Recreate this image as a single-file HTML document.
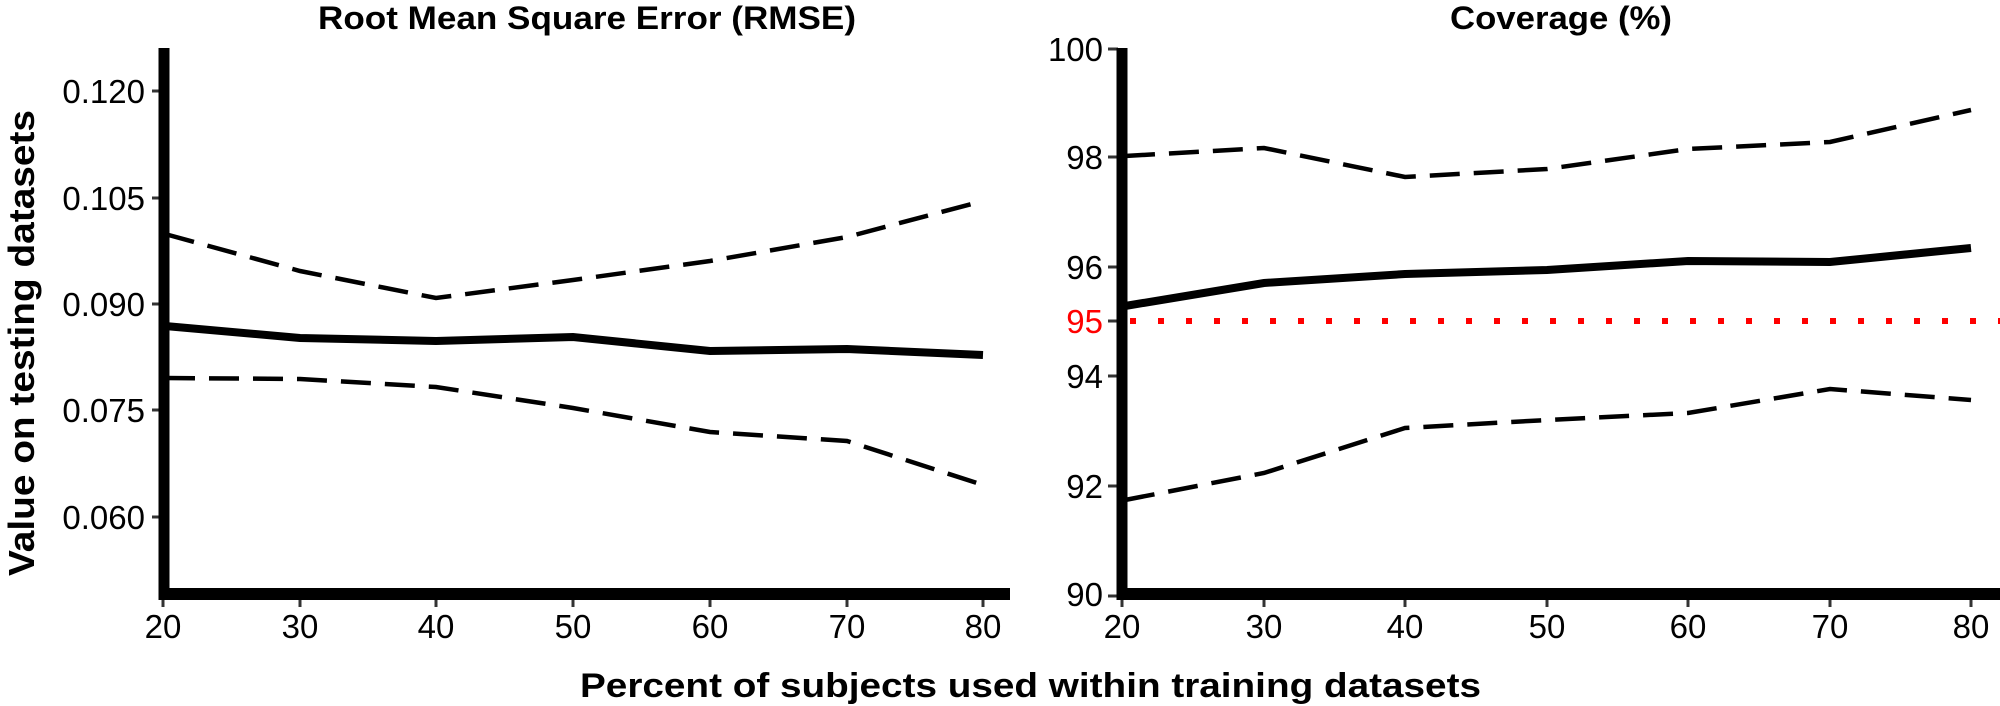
<!DOCTYPE html>
<html><head><meta charset="utf-8"><style>
body{margin:0;background:#fff}
svg{display:block;font-family:"Liberation Sans",Arial,sans-serif}
</style></head><body>
<svg width="2000" height="706" viewBox="0 0 2000 706">
<g font-weight="bold" fill="#000">
<text x="318" y="29" font-size="32" textLength="538" lengthAdjust="spacingAndGlyphs">Root Mean Square Error (RMSE)</text>
<text x="1450" y="29" font-size="32" textLength="222" lengthAdjust="spacingAndGlyphs">Coverage (%)</text>
<text x="580" y="697" font-size="34" textLength="901" lengthAdjust="spacingAndGlyphs">Percent of subjects used within training datasets</text>
<text transform="translate(34,576) rotate(-90)" font-size="36" textLength="466" lengthAdjust="spacingAndGlyphs">Value on testing datasets</text>
</g>
<!-- left panel -->
<g fill="none" stroke="#000">
<g stroke="#333" stroke-width="3">
<line x1="152" y1="91" x2="163" y2="91"/><line x1="152" y1="198" x2="163" y2="198"/><line x1="152" y1="304" x2="163" y2="304"/><line x1="152" y1="410" x2="163" y2="410"/><line x1="152" y1="517" x2="163" y2="517"/>
<line x1="163" y1="596" x2="163" y2="607"/><line x1="300" y1="596" x2="300" y2="607"/><line x1="436" y1="596" x2="436" y2="607"/><line x1="573" y1="596" x2="573" y2="607"/><line x1="710" y1="596" x2="710" y2="607"/><line x1="847" y1="596" x2="847" y2="607"/><line x1="983" y1="596" x2="983" y2="607"/>
</g>
<line x1="164" y1="48" x2="164" y2="600" stroke-width="11"/>
<line x1="159" y1="594" x2="1010" y2="594" stroke-width="12"/>
<polyline stroke-width="8" points="165,326 300,338 436,341 573,337 710,351 847,349 983,355"/>
<polyline stroke-width="4.5" stroke-dasharray="30,14" points="165,234 300,271 436,298 573,280 710,261 847,237 983,201"/>
<polyline stroke-width="4.5" stroke-dasharray="30,14" points="165,378 300,379 436,387 573,408 710,432 847,441 983,485"/>
</g>
<g font-size="33" fill="#000" text-anchor="end">
<text x="145" y="103">0.120</text><text x="145" y="210">0.105</text><text x="145" y="316">0.090</text><text x="145" y="422">0.075</text><text x="145" y="529">0.060</text>
</g>
<g font-size="33" fill="#000" text-anchor="middle">
<text x="163" y="638">20</text><text x="300" y="638">30</text><text x="436" y="638">40</text><text x="573" y="638">50</text><text x="710" y="638">60</text><text x="847" y="638">70</text><text x="983" y="638">80</text>
</g>
<!-- right panel -->
<g fill="none" stroke="#000">
<g stroke="#333" stroke-width="3">
<line x1="1108" y1="49" x2="1118" y2="49"/><line x1="1108" y1="157" x2="1118" y2="157"/><line x1="1108" y1="267" x2="1118" y2="267"/><line x1="1108" y1="321" x2="1118" y2="321"/><line x1="1108" y1="376" x2="1118" y2="376"/><line x1="1108" y1="486" x2="1118" y2="486"/><line x1="1108" y1="596" x2="1118" y2="596"/>
<line x1="1122" y1="596" x2="1122" y2="607"/><line x1="1264" y1="596" x2="1264" y2="607"/><line x1="1405" y1="596" x2="1405" y2="607"/><line x1="1547" y1="596" x2="1547" y2="607"/><line x1="1688" y1="596" x2="1688" y2="607"/><line x1="1830" y1="596" x2="1830" y2="607"/><line x1="1971" y1="596" x2="1971" y2="607"/>
</g>
<line x1="1122" y1="48" x2="1122" y2="600" stroke-width="11"/>
<line x1="1117" y1="594" x2="2000" y2="594" stroke-width="12"/>
<line x1="1130" y1="321" x2="2000" y2="321" stroke="#f00" stroke-width="6" stroke-dasharray="6,22"/>
<polyline stroke-width="8" points="1125,306 1264,283 1405,274 1547,270 1688,261 1830,262 1971,248"/>
<polyline stroke-width="4.5" stroke-dasharray="30,14" points="1125,156 1264,148 1405,177 1547,169 1688,149 1830,142 1971,110"/>
<polyline stroke-width="4.5" stroke-dasharray="30,14" points="1125,500 1264,473 1405,428 1547,420 1688,413 1830,389 1971,400"/>
</g>
<g font-size="33" fill="#000" text-anchor="end">
<text x="1103" y="61">100</text><text x="1103" y="169">98</text><text x="1103" y="279">96</text><text x="1103" y="333" fill="#f00">95</text><text x="1103" y="388">94</text><text x="1103" y="498">92</text><text x="1103" y="606">90</text>
</g>
<g font-size="33" fill="#000" text-anchor="middle">
<text x="1122" y="638">20</text><text x="1264" y="638">30</text><text x="1405" y="638">40</text><text x="1547" y="638">50</text><text x="1688" y="638">60</text><text x="1830" y="638">70</text><text x="1971" y="638">80</text>
</g>
</svg>
</body></html>
